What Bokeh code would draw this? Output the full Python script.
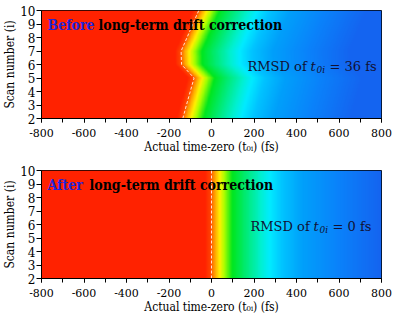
import numpy as np
from bokeh.plotting import figure
from bokeh.layouts import column
from bokeh.models import Label, LinearColorMapper, SingleIntervalTicker
from bokeh.embed import file_html
from bokeh.resources import INLINE

# ---------------- data ----------------
scans = [2, 3, 4, 5, 6, 7, 8, 9, 10]
t0_before = [-135, -118, -100, -82, -141, -143, -115, -88, -60]   # fs
t0_after = [0, 0, 0, 0, 0, 0, 0, 0, 0]                             # fs
rmsd_before = 36
rmsd_after = 0

delay_knots = [-800, -30, -5, 15, 38, 60, 98, 165, 235, 275, 335, 430, 600, 800]
signal_knots = [1.0, 1.0, 0.95, 0.88, 0.78, 0.70, 0.60, 0.52, 0.44, 0.38, 0.30, 0.22, 0.14, 0.06]

x_tick_values = [-800, -600, -400, -200, 0, 200, 400, 600, 800]
x_tick_labels = ["-800", "-600", "-400", "-200", "0", "200", "400", "600", "800"]
y_ticks_interval = 1

# ---------------- colour map (styling) ----------------
cm_levels = [0.06, 0.14, 0.22, 0.30, 0.38, 0.44, 0.52, 0.60, 0.70, 0.78, 0.88, 0.95, 1.00]
cm_colors = ["#1464F0", "#0A82FA", "#00A0FA", "#00C3FF", "#00EBFF", "#00F0D2", "#00EB78",
             "#00E61E", "#AAFF00", "#FFF000", "#FFA000", "#FF4600", "#FF2200"]


def hex2rgb(h):
    return [int(h[i:i + 2], 16) for i in (1, 3, 5)]


rgb = np.array([hex2rgb(c) for c in cm_colors], dtype=float)
lv = np.linspace(cm_levels[0], cm_levels[-1], 256)
palette = []
for L in lv:
    r, g, b = (int(round(np.interp(L, cm_levels, rgb[:, k]))) for k in range(3))
    palette.append("#%02x%02x%02x" % (r, g, b))
mapper = LinearColorMapper(palette=palette, low=cm_levels[0], high=cm_levels[-1])

FONT = "DejaVu Serif"
FONT_C = "DejaVu Serif Condensed"


def build_image(t0):
    xs = np.linspace(-800, 800, 801)
    ys = np.linspace(2, 10, 161)
    img = np.empty((len(ys), len(xs)))
    for j, y in enumerate(ys):
        t0y = np.interp(y, scans, t0)
        img[j, :] = np.interp(xs - t0y, delay_knots, signal_knots)
    return img


def make_panel(t0, word, word_w, rmsd, rmsd_shift):
    p = figure(width=400, height=160, x_range=(-800, 800), y_range=(2, 10),
               output_backend="svg", toolbar_location=None,
               min_border_left=38, min_border_right=19, min_border_top=10, min_border_bottom=42)
    p.image(image=[build_image(t0)], x=-800, y=2, dw=1600, dh=8, color_mapper=mapper)
    p.line(t0, scans, line_color="#FFF2EA", line_dash="3 2", line_width=1, line_alpha=0.9)

    p.xgrid.visible = False
    p.ygrid.visible = False
    p.outline_line_color = "black"
    p.outline_line_width = 1
    p.outline_line_alpha = 1

    xa = p.xaxis[0]
    xa.ticker = SingleIntervalTicker(interval=200, num_minor_ticks=2)
    xa.major_label_overrides = dict(zip(x_tick_values, x_tick_labels))
    xa.major_tick_in = 0
    xa.major_tick_out = 4
    xa.minor_tick_in = 0
    xa.minor_tick_out = 4
    xa.major_label_standoff = 6
    xa.major_label_text_font_size = "11px"
    xa.axis_label = "Actual time-zero (t\u2080\u1d62) (fs)"
    xa.axis_label_standoff = 0

    ya = p.yaxis[0]
    ya.ticker = SingleIntervalTicker(interval=y_ticks_interval, num_minor_ticks=0)
    ya.major_tick_in = 0
    ya.major_tick_out = 5
    ya.minor_tick_out = 0
    ya.major_label_standoff = 1
    ya.major_label_text_font_size = "12px"
    ya.axis_label = "Scan number (i)"
    ya.axis_label_standoff = 0

    for ax in (xa, ya):
        ax.axis_line_color = "black"
        ax.major_tick_line_color = "black"
        ax.minor_tick_line_color = "black"
        ax.major_label_text_font = FONT
        ax.major_label_text_font_style = "normal"
        ax.major_label_text_color = "black"
        ax.axis_label_text_font = FONT_C
        ax.axis_label_text_font_size = "12px"
        ax.axis_label_text_font_style = "normal"
        ax.axis_label_text_color = "black"

    # header
    p.add_layout(Label(x=-800, y=8.95, x_offset=6, text=word, text_font=FONT_C,
                       text_font_style="bold", text_font_size="14px", text_color="#2424D8",
                       text_baseline="middle", text_align="left"))
    p.add_layout(Label(x=-800, y=8.95, x_offset=6 + word_w, text="long-term drift correction",
                       text_font=FONT_C, text_font_style="bold", text_font_size="14px",
                       text_color="black", text_baseline="middle", text_align="left"))
    # RMSD text
    base = 206 + rmsd_shift
    yr = 5.87
    common = dict(text_color="#111133", text_baseline="middle", text_align="left")
    p.add_layout(Label(x=-800, y=yr, x_offset=base, text="RMSD of", text_font=FONT,
                       text_font_size="13px", **common))
    p.add_layout(Label(x=-800, y=yr, x_offset=base + 63, text="t", text_font=FONT,
                       text_font_style="italic", text_font_size="13px", **common))
    p.add_layout(Label(x=-800, y=yr - 0.28, x_offset=base + 69, text="0i", text_font=FONT,
                       text_font_style="italic", text_font_size="9px", **common))
    p.add_layout(Label(x=-800, y=yr, x_offset=base + 82, text="= %d fs" % rmsd, text_font=FONT,
                       text_font_size="13px", **common))
    return p


p1 = make_panel(t0_before, "Before", 51, rmsd_before, 0)
p2 = make_panel(t0_after, "After", 42, rmsd_after, 3)

layout = column(p1, p2, spacing=0)
open("out.html", "w").write(file_html(layout, INLINE))
